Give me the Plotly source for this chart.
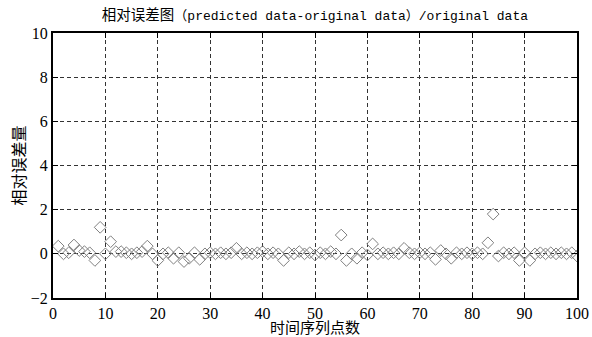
import plotly.graph_objects as go

x_index = list(range(1, 101))
rel_error = [
    0.35, 0.0, 0.05, 0.4, 0.15, 0.1, 0.05, -0.3, 1.2, 0.0,
    0.55, 0.1, 0.1, 0.05, 0.0, 0.05, 0.1, 0.35, 0.0, -0.3,
    0.0, 0.05, -0.2, 0.05, -0.35, -0.2, 0.05, -0.25, 0.0, 0.05,
    0.0, 0.05, 0.0, 0.05, 0.25, 0.0, 0.05, 0.0, 0.05, 0.1,
    0.0, 0.05, 0.0, -0.3, 0.05, 0.0, 0.1, 0.0, 0.05, -0.05,
    0.05, 0.0, 0.1, 0.0, 0.85, -0.3, 0.0, -0.2, 0.05, -0.05,
    0.45, 0.0, 0.05, 0.0, 0.05, 0.0, 0.25, 0.05, 0.0, 0.05,
    0.0, 0.05, -0.25, 0.15, 0.0, -0.2, 0.05, 0.0, 0.05, 0.0,
    0.05, 0.0, 0.5, 1.8, -0.1, 0.05, 0.0, 0.05, -0.3, 0.05,
    -0.3, 0.0, 0.05, 0.0, 0.05, 0.0, 0.05, 0.0, 0.05, -0.1,
]
x_ticks = [0, 10, 20, 30, 40, 50, 60, 70, 80, 90, 100]
y_ticks = [-2, 0, 2, 4, 6, 8, 10]

serif = "Liberation Serif, Noto Sans CJK SC, serif"
cjk = "Noto Sans CJK SC"

fig = go.Figure()
fig.add_trace(go.Scatter(
    x=x_index, y=rel_error, mode="markers",
    marker=dict(symbol="diamond-open", size=9, color="#808080",
                line=dict(width=1, color="#808080")),
    showlegend=False,
))

axis_common = dict(
    showline=True, linecolor="black", linewidth=2, mirror="ticks",
    ticks="inside", ticklen=5, tickcolor="black",
    showgrid=True, gridcolor="#333333", griddash="4px,3px", gridwidth=1,
    zeroline=False, automargin=False,
    tickfont=dict(family=serif, size=16, color="black"),
)

title_text = ("<span style='font-size:14.5px'>相对误差图</span>"
              "（predicted data-original data）/original data")

fig.update_layout(
    width=592, height=337,
    margin=dict(l=53, r=15, t=33, b=39),
    paper_bgcolor="white", plot_bgcolor="white",
    title=dict(text=title_text,
               x=0.532, xanchor="center", y=0.955, yanchor="middle",
               font=dict(family="Liberation Mono, Noto Sans CJK SC, monospace", size=13, color="black")),
    xaxis=dict(range=[0, 100], tickvals=x_ticks, ticklabelstandoff=0, **axis_common),
    yaxis=dict(range=[-2, 10], tickvals=y_ticks, **axis_common),
    annotations=[
        dict(text="时间序列点数", x=0.5, xref="paper", y=-0.108, yref="paper",
             xanchor="center", yanchor="middle", showarrow=False,
             font=dict(family=cjk, size=15, color="black")),
        dict(text="相对误差量", x=-0.067, xref="paper", y=0.5, yref="paper",
             xanchor="center", yanchor="middle", showarrow=False, textangle=-90,
             font=dict(family=cjk, size=16, color="black")),
    ],
)

fig.write_html("out.html", config={"displayModeBar": False},
               post_script="document.body.style.margin='0';")
